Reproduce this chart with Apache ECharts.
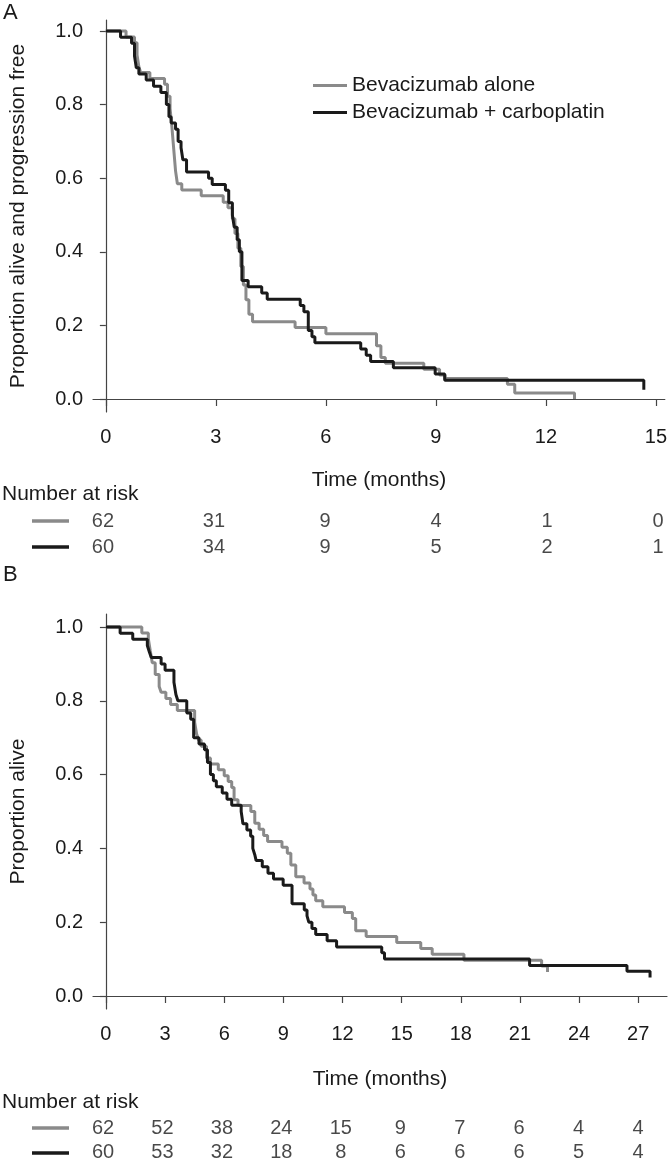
<!DOCTYPE html>
<html>
<head>
<meta charset="utf-8">
<script src="https://cdn.jsdelivr.net/npm/echarts@6/dist/echarts.min.js"></script>
<style>
  html, body { margin: 0; padding: 0; background: #fff; }
  #chart { width: 670px; height: 1164px; }
</style>
</head>
<body>
<div id="chart"></div>
<script>
// A: progression-free survival (months, proportion)
const pfsAloneTime = [0, 0.55, 0.78, 0.85, 0.9, 0.95, 1.2, 1.6, 1.68, 1.75, 1.8, 1.85, 1.9, 1.95, 2.07, 2.6, 3.2, 3.33, 3.45, 3.52, 3.6, 3.68, 3.75, 3.82, 3.9, 4.0, 5.16, 6.0, 7.38, 7.5, 7.62, 8.67, 9.1, 9.25, 10.95, 11.15, 12.78];
const pfsAloneSurv = [1, 0.984, 0.968, 0.935, 0.903, 0.887, 0.871, 0.855, 0.823, 0.79, 0.74, 0.68, 0.62, 0.585, 0.568, 0.552, 0.535, 0.52, 0.49, 0.45, 0.41, 0.36, 0.31, 0.27, 0.23, 0.21, 0.194, 0.177, 0.145, 0.113, 0.097, 0.081, 0.065, 0.056, 0.04, 0.016, 0];
const pfsComboTime = [0, 0.4, 0.7, 0.78, 0.83, 0.9, 1.1, 1.3, 1.5, 1.65, 1.72, 1.78, 1.9, 1.97, 2.05, 2.1, 2.2, 2.8, 2.9, 3.26, 3.35, 3.45, 3.5, 3.58, 3.64, 3.71, 3.88, 4.25, 4.4, 5.3, 5.4, 5.52, 5.62, 5.7, 6.95, 7.1, 7.22, 7.84, 8.98, 9.24, 14.67];
const pfsComboSurv = [1, 0.983, 0.967, 0.933, 0.9, 0.883, 0.867, 0.85, 0.833, 0.8, 0.767, 0.75, 0.733, 0.7, 0.683, 0.65, 0.617, 0.6, 0.583, 0.567, 0.533, 0.5, 0.467, 0.433, 0.4, 0.322, 0.305, 0.288, 0.271, 0.254, 0.237, 0.186, 0.169, 0.153, 0.136, 0.119, 0.102, 0.085, 0.068, 0.051, 0.025];

// B: overall survival
const osAloneTime = [0, 1.82, 2.15, 2.25, 2.35, 2.5, 2.7, 2.8, 3.04, 3.28, 3.62, 4.5, 4.6, 4.7, 4.83, 5.1, 5.3, 5.7, 6.0, 6.2, 6.38, 6.5, 6.7, 7.35, 7.55, 7.77, 8.0, 8.2, 8.93, 9.2, 9.38, 9.63, 10.05, 10.35, 10.5, 10.64, 11.0, 12.1, 12.5, 12.67, 13.2, 14.75, 15.97, 16.55, 18.16, 22.1, 22.4];
const osAloneSurv = [1, 0.984, 0.968, 0.935, 0.903, 0.871, 0.839, 0.823, 0.806, 0.79, 0.774, 0.742, 0.71, 0.694, 0.677, 0.645, 0.629, 0.613, 0.597, 0.581, 0.565, 0.532, 0.516, 0.5, 0.468, 0.452, 0.435, 0.419, 0.403, 0.387, 0.355, 0.323, 0.306, 0.29, 0.274, 0.258, 0.242, 0.226, 0.21, 0.177, 0.161, 0.145, 0.129, 0.113, 0.097, 0.081, 0.065];
const osComboTime = [0, 0.72, 1.36, 2.1, 2.2, 2.3, 2.8, 3.0, 3.45, 3.55, 3.65, 4.1, 4.3, 4.45, 4.72, 5.0, 5.15, 5.3, 5.45, 5.6, 5.9, 6.14, 6.38, 6.86, 6.95, 7.15, 7.34, 7.45, 7.55, 7.62, 7.93, 8.22, 8.5, 8.99, 9.44, 10.06, 10.2, 10.29, 10.45, 10.64, 11.22, 11.7, 13.99, 14.13, 21.49, 26.43, 27.6];
const osComboSurv = [1, 0.983, 0.967, 0.95, 0.933, 0.917, 0.9, 0.883, 0.85, 0.817, 0.8, 0.767, 0.75, 0.7, 0.683, 0.667, 0.633, 0.6, 0.583, 0.567, 0.55, 0.533, 0.517, 0.5, 0.467, 0.45, 0.433, 0.4, 0.383, 0.367, 0.35, 0.333, 0.317, 0.3, 0.25, 0.233, 0.217, 0.2, 0.183, 0.167, 0.15, 0.133, 0.117, 0.1, 0.083, 0.067, 0.05];

// number at risk
const riskTimesA = [0, 3, 6, 9, 12, 15];
const riskAloneA = [62, 31, 9, 4, 1, 0];
const riskComboA = [60, 34, 9, 5, 2, 1];
const riskTimesB = [0, 3, 6, 9, 12, 15, 18, 21, 24, 27];
const riskAloneB = [62, 52, 38, 24, 15, 9, 7, 6, 4, 4];
const riskComboB = [60, 53, 32, 18, 8, 6, 6, 6, 5, 4];

const yTicks = [0, 0.2, 0.4, 0.6, 0.8, 1.0];
const xTicksA = riskTimesA;
const xTicksB = riskTimesB;

const nameAlone = 'Bevacizumab alone';
const nameCombo = 'Bevacizumab + carboplatin';
const grey = '#8a8a8a';
const black = '#1a1a1a';
const font = 'Liberation Sans, Arial, sans-serif';
const txt = '#1a1a1a';

const zip = (t, s) => t.map((v, i) => [v, s[i]]);

function plotX(idx, min, max, ticks, gap) {
  return {
    gridIndex: idx, type: 'value', min: min, max: max,
    name: 'Time (months)', nameLocation: 'middle', nameGap: gap,
    nameTextStyle: { fontFamily: font, fontSize: 21, color: txt },
    axisLine: { show: true, lineStyle: { color: '#444', width: 1.2 } },
    axisTick: { show: true, length: 7, customValues: ticks, lineStyle: { color: '#444', width: 1.2 } },
    axisLabel: { customValues: ticks, margin: 15, fontFamily: font, fontSize: 20, color: txt },
    splitLine: { show: false }
  };
}
function plotY(idx, min, max, title, gap) {
  return {
    gridIndex: idx, type: 'value', min: min, max: max,
    name: title, nameLocation: 'middle', nameGap: gap,
    nameTextStyle: { fontFamily: font, fontSize: 21, color: txt },
    axisLine: { show: true, lineStyle: { color: '#444', width: 1.2 } },
    axisTick: { show: true, length: 6, customValues: yTicks, lineStyle: { color: '#444', width: 1.2 } },
    axisLabel: { customValues: yTicks, margin: 10, fontFamily: font, fontSize: 20, color: txt,
      formatter: v => Number(v).toFixed(1) },
    splitLine: { show: false }
  };
}
function hiddenX(idx, min, max) {
  return { gridIndex: idx, type: 'value', min: min, max: max, show: false, splitLine: { show: false } };
}
function riskY(idx) {
  return { gridIndex: idx, type: 'category', data: ['combo', 'alone'], show: false };
}
function km(name, color, xi, data) {
  return {
    name: name, type: 'line', step: 'end', xAxisIndex: xi, yAxisIndex: xi,
    data: data, symbol: 'none', lineStyle: { color: color, width: 3 }, itemStyle: { color: color },
    silent: true
  };
}
function riskRow(xi, row, times, counts) {
  return {
    type: 'scatter', xAxisIndex: xi, yAxisIndex: xi,
    data: times.map((t, i) => [t, row, counts[i]]),
    symbol: 'circle', symbolSize: 2, itemStyle: { color: 'rgba(255,255,255,0)' },
    label: { show: true, position: 'inside', formatter: p => String(p.value[2]),
      fontFamily: font, fontSize: 20, color: txt },
    labelLayout: { hideOverlap: false },
    silent: true
  };
}

// A axis: 0 at x=103, 15 at x=658; B axis: 0 at x=103, 27 at x=638
const chart = echarts.init(document.getElementById('chart'), null, { renderer: 'canvas' });
chart.setOption({
  animation: false,
  backgroundColor: '#fff',
  grid: [
    { left: 90, top: 20, width: 577, height: 392 },
    { left: 90, top: 508, width: 577, height: 52 },
    { left: 90, top: 614, width: 577, height: 395 },
    { left: 90, top: 1116, width: 577, height: 50 }
  ],
  xAxis: [
    plotX(0, -0.351, 15.243, xTicksA, 58),
    hiddenX(1, -0.351, 15.243),
    plotX(2, -0.656, 28.46, xTicksB, 60),
    hiddenX(3, -0.656, 28.46)
  ],
  yAxis: [
    plotY(0, -0.0353, 1.0299, 'Proportion alive and progression free', 64),
    riskY(1),
    plotY(2, -0.0352, 1.0352, 'Proportion alive', 64),
    riskY(3)
  ],
  legend: {
    data: [nameAlone, nameCombo], orient: 'vertical', left: 308, top: 70,
    itemWidth: 34, itemHeight: 3, itemGap: 6, icon: 'rect',
    textStyle: { fontFamily: font, fontSize: 21, color: txt }
  },
  graphic: [
    { type: 'text', left: 3, top: 2, style: { text: 'A', font: '22px ' + font, fill: txt } },
    { type: 'text', left: 3, top: 564, style: { text: 'B', font: '22px ' + font, fill: txt } },
    { type: 'text', left: 2, top: 484, style: { text: 'Number at risk', font: '21px ' + font, fill: txt } },
    { type: 'text', left: 2, top: 1092, style: { text: 'Number at risk', font: '21px ' + font, fill: txt } },
    { type: 'line', shape: { x1: 32, y1: 521, x2: 69, y2: 521 }, style: { stroke: grey, lineWidth: 3.5 } },
    { type: 'line', shape: { x1: 32, y1: 547, x2: 69, y2: 547 }, style: { stroke: black, lineWidth: 3.5 } },
    { type: 'line', shape: { x1: 32, y1: 1128, x2: 69, y2: 1128 }, style: { stroke: grey, lineWidth: 3.5 } },
    { type: 'line', shape: { x1: 32, y1: 1153, x2: 69, y2: 1153 }, style: { stroke: black, lineWidth: 3.5 } }
  ],
  series: [
    km(nameAlone, grey, 0, zip(pfsAloneTime, pfsAloneSurv)),
    km(nameCombo, black, 0, zip(pfsComboTime, pfsComboSurv)),
    km(nameAlone, grey, 2, zip(osAloneTime, osAloneSurv)),
    km(nameCombo, black, 2, zip(osComboTime, osComboSurv)),
    riskRow(1, 'alone', riskTimesA, riskAloneA),
    riskRow(1, 'combo', riskTimesA, riskComboA),
    riskRow(3, 'alone', riskTimesB, riskAloneB),
    riskRow(3, 'combo', riskTimesB, riskComboB)
  ]
});
</script>
</body>
</html>
